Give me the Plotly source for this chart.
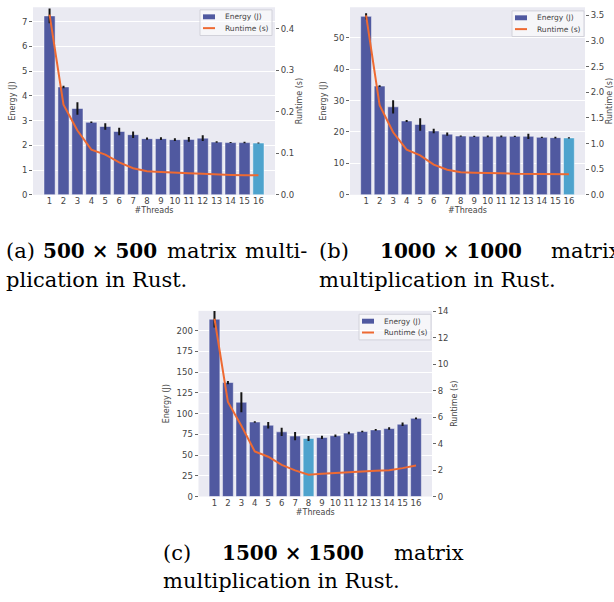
import plotly.graph_objects as go

# ---------------- data ----------------
threads = list(range(1, 17))
tick_labels = [str(t) for t in threads]

energy_500 = [7.23, 4.36, 3.49, 2.93, 2.76, 2.56, 2.43, 2.27, 2.27, 2.23, 2.24, 2.29, 2.13, 2.11, 2.11, 2.09]
energy_500_err = [0.30, 0.05, 0.25, 0.03, 0.13, 0.15, 0.13, 0.05, 0.06, 0.06, 0.10, 0.12, 0.03, 0.02, 0.03, 0.02]
runtime_500 = [0.434, 0.217, 0.155, 0.109, 0.097, 0.078, 0.064, 0.057, 0.055, 0.053, 0.052, 0.051, 0.049, 0.048, 0.047, 0.047]

energy_1000 = [56.8, 34.6, 28.0, 23.5, 22.4, 20.3, 19.3, 18.7, 18.6, 18.6, 18.6, 18.6, 18.6, 18.3, 18.2, 18.1]
energy_1000_err = [1.0, 0.3, 2.1, 0.3, 2.0, 0.7, 0.5, 0.2, 0.2, 0.3, 0.3, 0.2, 0.8, 0.2, 0.3, 0.2]
runtime_1000 = [3.50, 1.75, 1.22, 0.88, 0.77, 0.59, 0.49, 0.44, 0.43, 0.43, 0.42, 0.41, 0.41, 0.40, 0.40, 0.40]

energy_1500 = [213.9, 137.5, 113.7, 89.9, 86.0, 78.0, 72.9, 70.1, 71.3, 73.3, 76.5, 78.4, 80.4, 82.0, 87.2, 94.3]
energy_1500_err = [10.0, 2.0, 12.0, 1.0, 4.0, 5.0, 5.0, 3.0, 2.0, 1.5, 1.5, 1.0, 1.0, 1.5, 2.0, 1.0]
runtime_1500 = [13.45, 7.16, 5.36, 3.41, 3.01, 2.40, 1.98, 1.65, 1.73, 1.80, 1.85, 1.90, 1.95, 1.98, 2.15, 2.35]

best_thread_500 = 16
best_thread_1000 = 16
best_thread_1500 = 8

energy_ticks_500 = [0, 1, 2, 3, 4, 5, 6, 7]
runtime_ticks_500 = [0.0, 0.1, 0.2, 0.3, 0.4]
energy_ticks_1000 = [0, 10, 20, 30, 40, 50]
runtime_ticks_1000 = [0.0, 0.5, 1.0, 1.5, 2.0, 2.5, 3.0, 3.5]
energy_ticks_1500 = [0, 25, 50, 75, 100, 125, 150, 175, 200]
runtime_ticks_1500 = [0, 2, 4, 6, 8, 10, 12, 14]

legend_labels = ["Energy (J)", "Runtime (s)"]

# ---------------- style ----------------
W, H = 614, 602
BAR = "#5059a0"
HIGHLIGHT = "#4ea3cd"
LINE = "#ee6a32"
BG = "#eaeaf2"
TXT = "#444444"
FONT = "DejaVu Sans"


def px_x(v):
    return v / W


def px_y(v):
    return 1 - v / H


panels = [
    dict(energy=energy_500, err=energy_500_err, runtime=runtime_500, best=best_thread_500,
         xdom=[px_x(33), px_x(275)], ydom=[px_y(193.7), px_y(3.3)],
         erange=[0, 7.58], eticks=energy_ticks_500, rrange=[0, 0.452], rticks=runtime_ticks_500,
         rfmt=".1f", legend_tr=(272, 6)),
    dict(energy=energy_1000, err=energy_1000_err, runtime=runtime_1000, best=best_thread_1000,
         xdom=[px_x(350), px_x(585)], ydom=[px_y(193.7), px_y(3.3)],
         erange=[0, 59.7], eticks=energy_ticks_1000, rrange=[0, 3.66], rticks=runtime_ticks_1000,
         rfmt=".1f", legend_tr=(584, 7)),
    dict(energy=energy_1500, err=energy_1500_err, runtime=runtime_1500, best=best_thread_1500,
         xdom=[px_x(198.5), px_x(432)], ydom=[px_y(500), px_y(311.5)],
         erange=[0, 224], eticks=energy_ticks_1500, rrange=[0, 14.05], rticks=runtime_ticks_1500,
         rfmt="d", legend_tr=(431, 315)),
]

fig = go.Figure()
layout = dict(
    width=W, height=H,
    margin=dict(l=0, r=0, t=0, b=0),
    paper_bgcolor="white",
    plot_bgcolor=BG,
    font=dict(family=FONT, size=8, color=TXT),
    showlegend=False,
    hovermode=False,
)
shapes = []
annotations = []

for i, p in enumerate(panels):
    xa = "x" if i == 0 else f"x{i + 1}"
    ya_l = "y" if i == 0 else f"y{2 * i + 1}"
    ya_r = f"y{2 * i + 2}"
    colors = [HIGHLIGHT if t == p["best"] else BAR for t in threads]

    fig.add_trace(go.Bar(
        x=threads, y=p["energy"], name=legend_labels[0],
        marker=dict(color=colors, line=dict(color="rgba(255,255,255,0.45)", width=1)),
        width=0.8,
        error_y=dict(type="data", array=p["err"], color="#151515", thickness=2, width=0),
        xaxis=xa, yaxis=ya_l,
    ))
    fig.add_trace(go.Scatter(
        x=threads, y=p["runtime"], name=legend_labels[1], mode="lines",
        line=dict(color=LINE, width=2),
        xaxis=xa, yaxis=ya_r,
    ))

    xkey = "xaxis" if i == 0 else f"xaxis{i + 1}"
    ylkey = "yaxis" if i == 0 else f"yaxis{2 * i + 1}"
    yrkey = f"yaxis{2 * i + 2}"

    layout[xkey] = dict(
        domain=p["xdom"], anchor=ya_l,
        range=[1 - 1.19, 16 + 1.19],
        tickmode="array", tickvals=threads, ticktext=tick_labels,
        ticks="", ticklen=0, showgrid=False, zeroline=False, showline=False,
        tickfont=dict(size=8.5, color=TXT),
        title=dict(text="#Threads", font=dict(size=8, color=TXT), standoff=2),
    )
    layout[ylkey] = dict(
        domain=p["ydom"], anchor=xa,
        range=p["erange"], tickmode="array", tickvals=p["eticks"],
        ticks="outside", ticklen=3, tickcolor="#666666", tickwidth=1,
        showgrid=True, gridcolor="white", gridwidth=1,
        zeroline=False, showline=False,
        tickfont=dict(size=8.5, color=TXT),
        title=dict(text="Energy (J)", font=dict(size=8, color=TXT), standoff=5),
    )
    layout[yrkey] = dict(
        overlaying=ya_l, anchor=xa, side="right",
        range=p["rrange"], tickmode="array", tickvals=p["rticks"], tickformat=p["rfmt"],
        ticks="outside", ticklen=3, tickcolor="#666666", tickwidth=1,
        showgrid=False, zeroline=False, showline=False,
        tickfont=dict(size=8.5, color=TXT),
        title=dict(text="Runtime (s)", font=dict(size=8, color=TXT), standoff=3),
    )

    # legend box (top-right inside each panel)
    rx, ty = p["legend_tr"]
    lx, by = rx - 72, ty + 26
    shapes.append(dict(type="rect", xref="paper", yref="paper",
                       x0=px_x(lx), x1=px_x(rx), y0=px_y(by), y1=px_y(ty),
                       line=dict(color="#d2d2da", width=1), fillcolor="rgba(255,255,255,0.55)"))
    shapes.append(dict(type="rect", xref="paper", yref="paper",
                       x0=px_x(lx + 3), x1=px_x(lx + 15), y0=px_y(ty + 9.5), y1=px_y(ty + 4.5),
                       line=dict(width=0), fillcolor=BAR))
    shapes.append(dict(type="line", xref="paper", yref="paper",
                       x0=px_x(lx + 3), x1=px_x(lx + 15), y0=px_y(ty + 18.5), y1=px_y(ty + 18.5),
                       line=dict(color=LINE, width=2)))
    for k, lab in enumerate(legend_labels):
        annotations.append(dict(text=lab, x=px_x(lx + 23), y=px_y(ty + 7 + 11.5 * k),
                                xref="paper", yref="paper", xanchor="left", yanchor="middle",
                                showarrow=False, font=dict(family=FONT, size=7.5, color=TXT)))

# ---------------- captions ----------------
CAP = dict(family="DejaVu Serif", size=21, color="black")
CAPB = dict(family="DejaVu Serif", size=20, color="black")
captions = [
    ("(a)", 4, 251, CAP), ("<b>500 × 500</b>", 41, 251, CAPB), ("matrix", 165, 251, CAP),
    ("multi-", 243, 251, CAP),
    ("plication in Rust.", 4, 280, CAP),
    ("(b)", 317, 251, CAP), ("<b>1000 × 1000</b>", 378, 251, CAPB), ("matrix", 549, 251, CAP),
    ("multiplication in Rust.", 317, 280, CAP),
    ("(c)", 161, 557, CAP), ("<b>1500 × 1500</b>", 220, 557, CAPB), ("matrix", 392, 557, CAP),
    ("multiplication in Rust.", 161, 586, CAP),
]
for text, x, y, f in captions:
    annotations.append(dict(
        text=text, x=px_x(x), y=px_y(y), xref="paper", yref="paper",
        xanchor="left", yanchor="middle", showarrow=False, font=f,
    ))

layout["shapes"] = shapes
layout["annotations"] = annotations
fig.update_layout(**layout)

fig.write_html("out.html", config={"displayModeBar": False, "staticPlot": True},
               post_script="document.body.style.margin='0px';")
